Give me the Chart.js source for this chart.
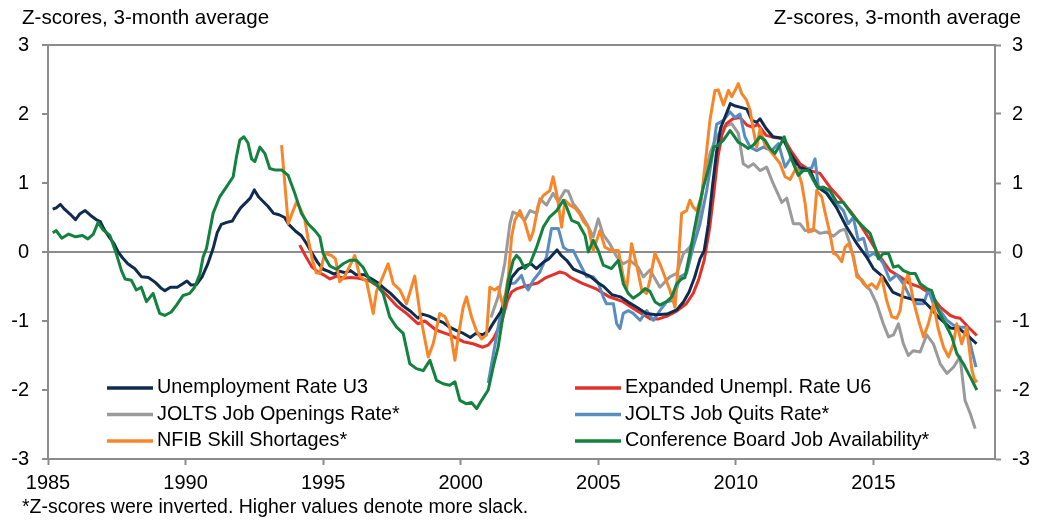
<!DOCTYPE html>
<html>
<head>
<meta charset="utf-8">
<script src="https://cdn.jsdelivr.net/npm/chart.js@4.4.1/dist/chart.umd.min.js"></script>
<style>
html,body{margin:0;padding:0;background:#fff;}
</style>
</head>
<body>
<canvas id="myChart" width="1044" height="521"></canvas>
<script>
// data (decimal years, z-scores)
var xTicks = [1985, 1990, 1995, 2000, 2005, 2010, 2015];

var u3Years = [1985.17,1985.3,1985.45,1985.6,1985.8,1986.0,1986.15,1986.35,1986.55,1986.75,1986.9,1987.05,1987.25,1987.4,1987.55,1987.7,1987.9,1988.15,1988.4,1988.65,1988.9,1989.1,1989.25,1989.45,1989.7,1989.9,1990.05,1990.2,1990.4,1990.6,1990.8,1991.0,1991.15,1991.3,1991.5,1991.7,1991.85,1992.0,1992.2,1992.35,1992.5,1992.65,1992.8,1993.0,1993.2,1993.4,1993.6,1993.75,1994.0,1994.2,1994.4,1994.6,1994.8,1995.0,1995.2,1995.4,1995.6,1995.8,1996.0,1996.2,1996.5,1996.8,1997.0,1997.2,1997.45,1997.7,1997.9,1998.15,1998.45,1998.6,1998.85,1999.1,1999.35,1999.6,1999.85,2000.1,2000.35,2000.55,2000.8,2001.0,2001.2,2001.45,2001.65,2001.85,2002.1,2002.35,2002.55,2002.75,2003.0,2003.2,2003.5,2003.65,2003.85,2004.1,2004.4,2004.7,2005.0,2005.2,2005.5,2005.8,2006.1,2006.4,2006.75,2007.1,2007.5,2007.85,2008.1,2008.3,2008.5,2008.7,2008.85,2009.0,2009.15,2009.3,2009.45,2009.6,2009.8,2009.95,2010.15,2010.4,2010.58,2010.76,2010.88,2011.1,2011.35,2011.7,2011.95,2012.3,2012.7,2012.95,2013.3,2013.65,2014.0,2014.4,2014.75,2015.0,2015.35,2015.7,2016.1,2016.45,2016.8,2017.05,2017.4,2017.8,2018.15,2018.45,2018.75];
var u3Values = [0.62,0.64,0.69,0.62,0.55,0.47,0.55,0.6,0.53,0.47,0.44,0.32,0.2,0.12,0.0,-0.08,-0.17,-0.24,-0.36,-0.37,-0.44,-0.52,-0.56,-0.51,-0.51,-0.46,-0.42,-0.48,-0.47,-0.36,-0.18,0.05,0.28,0.4,0.43,0.45,0.55,0.64,0.72,0.78,0.9,0.8,0.74,0.66,0.56,0.54,0.5,0.4,0.3,0.24,0.12,-0.02,-0.15,-0.25,-0.28,-0.32,-0.28,-0.3,-0.27,-0.33,-0.33,-0.4,-0.45,-0.52,-0.6,-0.7,-0.78,-0.85,-0.96,-0.9,-0.93,-0.98,-1.02,-1.09,-1.14,-1.18,-1.24,-1.18,-1.2,-1.15,-1.02,-0.87,-0.66,-0.37,-0.25,-0.2,-0.17,-0.24,-0.15,-0.1,0.03,-0.05,-0.12,-0.25,-0.3,-0.35,-0.45,-0.5,-0.62,-0.65,-0.73,-0.8,-0.89,-0.91,-0.9,-0.84,-0.72,-0.58,-0.37,-0.1,0.02,0.4,0.95,1.45,1.8,1.95,2.15,2.12,2.1,2.07,1.91,1.88,1.93,1.79,1.67,1.65,1.45,1.23,1.18,0.95,0.85,0.65,0.38,0.12,-0.07,-0.24,-0.36,-0.58,-0.65,-0.69,-0.7,-0.8,-0.96,-1.1,-1.12,-1.22,-1.33];

var u6Years = [1994.15,1994.35,1994.6,1994.85,1995.05,1995.25,1995.5,1995.75,1996.0,1996.3,1996.7,1997.0,1997.3,1997.67,1998.0,1998.45,1998.7,1999.1,1999.6,2000.1,2000.45,2000.8,2001.0,2001.2,2001.5,2001.7,2001.85,2002.05,2002.3,2002.5,2002.8,2003.1,2003.35,2003.6,2003.8,2004.0,2004.4,2004.9,2005.4,2005.9,2006.4,2006.9,2007.2,2007.5,2007.8,2008.2,2008.45,2008.65,2008.85,2009.05,2009.2,2009.35,2009.5,2009.65,2009.9,2010.15,2010.4,2010.6,2010.8,2011.1,2011.4,2011.75,2012.0,2012.33,2012.7,2013.06,2013.42,2013.8,2014.15,2014.5,2014.88,2015.24,2015.6,2015.97,2016.33,2016.7,2017.06,2017.43,2017.8,2018.0,2018.15,2018.45,2018.76];
var u6Values = [0.1,-0.05,-0.22,-0.3,-0.34,-0.39,-0.35,-0.38,-0.37,-0.38,-0.42,-0.5,-0.62,-0.78,-0.88,-1.04,-1.0,-1.13,-1.2,-1.3,-1.33,-1.38,-1.35,-1.25,-1.0,-0.7,-0.58,-0.53,-0.5,-0.48,-0.45,-0.37,-0.33,-0.29,-0.31,-0.37,-0.45,-0.53,-0.65,-0.72,-0.85,-0.97,-0.97,-0.93,-0.87,-0.75,-0.6,-0.4,-0.12,0.35,0.85,1.38,1.7,1.86,1.93,1.95,1.84,1.81,1.85,1.69,1.66,1.64,1.47,1.28,1.18,1.14,0.94,0.77,0.6,0.41,0.17,-0.07,-0.27,-0.36,-0.46,-0.51,-0.6,-0.8,-0.92,-0.95,-0.96,-1.09,-1.21];

var openYears = [2001.1,2001.36,2001.6,2001.79,2001.9,2002.15,2002.33,2002.52,2002.76,2002.88,2003.12,2003.36,2003.55,2003.79,2003.91,2004.09,2004.33,2004.58,2004.82,2005.0,2005.18,2005.42,2005.67,2005.91,2006.15,2006.45,2006.64,2006.88,2007.24,2007.6,2007.85,2008.1,2008.33,2008.58,2008.82,2009.06,2009.3,2009.55,2009.85,2010.09,2010.27,2010.45,2010.64,2010.88,2011.12,2011.36,2011.67,2011.85,2012.09,2012.33,2012.52,2012.82,2013.06,2013.3,2013.55,2013.79,2013.97,2014.15,2014.4,2014.64,2014.88,2015.12,2015.36,2015.55,2015.73,2015.91,2016.09,2016.27,2016.45,2016.7,2016.94,2017.18,2017.43,2017.67,2017.91,2018.15,2018.33,2018.52,2018.7];
var openValues = [-0.95,-0.65,-0.17,0.41,0.58,0.53,0.46,0.6,0.56,0.77,0.68,0.85,0.73,0.89,0.88,0.7,0.58,0.41,0.22,0.48,0.25,0.12,-0.07,-0.17,-0.12,-0.22,-0.36,-0.26,-0.51,-0.36,-0.31,-0.02,0.07,0.27,0.99,1.43,1.67,1.81,1.86,1.72,1.28,1.23,1.28,1.18,1.23,0.99,0.72,0.78,0.41,0.41,0.31,0.33,0.27,0.29,0.23,0.31,0.33,0.12,-0.31,-0.46,-0.55,-0.75,-1.04,-1.23,-1.2,-1.04,-1.33,-1.5,-1.43,-1.45,-1.2,-1.33,-1.62,-1.76,-1.67,-1.52,-2.15,-2.34,-2.56];

var quitsYears = [2001.0,2001.2,2001.4,2001.6,2001.8,2001.97,2002.21,2002.33,2002.45,2002.64,2002.88,2003.12,2003.3,2003.55,2003.73,2003.91,2004.09,2004.33,2004.58,2004.82,2005.0,2005.18,2005.3,2005.55,2005.67,2005.79,2005.91,2006.09,2006.27,2006.52,2006.76,2007.0,2007.24,2007.49,2007.73,2007.97,2008.21,2008.45,2008.7,2008.94,2009.12,2009.3,2009.55,2009.79,2009.97,2010.15,2010.33,2010.52,2010.76,2011.0,2011.3,2011.55,2011.79,2012.03,2012.27,2012.52,2012.76,2012.88,2013.0,2013.18,2013.42,2013.67,2013.91,2014.09,2014.27,2014.45,2014.64,2014.82,2015.0,2015.18,2015.36,2015.6,2015.85,2016.09,2016.33,2016.58,2016.82,2017.0,2017.18,2017.43,2017.67,2017.91,2018.15,2018.39,2018.58,2018.73];
var quitsValues = [-1.9,-1.45,-1.0,-0.65,-0.46,-0.45,-0.34,-0.48,-0.55,-0.41,-0.29,-0.07,0.34,0.34,0.07,0.02,0.02,-0.17,-0.36,-0.36,-0.45,-0.65,-0.75,-0.75,-1.04,-1.11,-0.89,-0.85,-0.89,-0.99,-0.85,-0.99,-0.85,-0.72,-0.7,-0.36,-0.31,0.07,0.41,0.89,1.33,1.85,1.91,2.03,1.95,2.0,1.67,1.52,1.47,1.52,1.47,1.57,1.23,1.38,1.18,1.2,1.22,1.35,0.94,0.94,0.8,0.7,0.6,0.41,0.5,0.17,0.2,-0.07,-0.02,-0.07,-0.17,-0.41,-0.33,-0.46,-0.65,-0.75,-0.75,-0.55,-0.75,-0.85,-0.99,-1.06,-1.09,-1.09,-1.43,-1.67];

var nfibYears = [1993.49,1993.73,1993.91,1994.03,1994.15,1994.33,1994.45,1994.6,1994.75,1994.88,1995.06,1995.3,1995.45,1995.6,1995.79,1996.15,1996.33,1996.58,1996.82,1996.94,1997.18,1997.36,1997.55,1997.79,1998.03,1998.33,1998.52,1998.82,1999.0,1999.24,1999.43,1999.6,1999.79,1999.91,2000.09,2000.21,2000.4,2000.58,2000.76,2000.94,2001.06,2001.24,2001.36,2001.55,2001.73,2001.85,2001.97,2002.15,2002.33,2002.52,2002.64,2002.82,2003.0,2003.24,2003.36,2003.51,2003.67,2003.79,2003.97,2004.15,2004.33,2004.45,2004.64,2004.82,2005.06,2005.24,2005.48,2005.73,2005.91,2006.03,2006.21,2006.4,2006.58,2006.76,2006.88,2007.06,2007.24,2007.42,2007.6,2007.79,2007.91,2008.03,2008.21,2008.33,2008.45,2008.58,2008.76,2008.94,2009.06,2009.24,2009.36,2009.55,2009.73,2009.85,2009.97,2010.09,2010.21,2010.39,2010.52,2010.64,2010.76,2010.88,2011.06,2011.24,2011.42,2011.61,2011.79,2011.97,2012.21,2012.39,2012.52,2012.64,2012.82,2012.94,2013.12,2013.24,2013.42,2013.55,2013.67,2013.85,2013.97,2014.09,2014.27,2014.4,2014.58,2014.76,2014.94,2015.12,2015.3,2015.48,2015.67,2015.85,2015.97,2016.09,2016.27,2016.45,2016.64,2016.82,2017.0,2017.18,2017.36,2017.55,2017.73,2017.91,2018.03,2018.21,2018.39,2018.58,2018.7,2018.78];
var nfibValues = [1.55,0.41,0.6,0.72,0.65,0.48,0.2,-0.1,-0.3,-0.31,-0.02,-0.05,-0.1,-0.43,-0.35,-0.05,-0.35,-0.43,-0.89,-0.57,-0.35,-0.17,-0.46,-0.55,-0.75,-0.35,-0.89,-1.52,-1.33,-0.89,-0.94,-1.09,-1.57,-1.22,-0.8,-0.65,-0.95,-1.15,-1.26,-1.2,-0.51,-0.55,-0.51,-0.8,-0.36,0.22,0.46,0.6,0.43,0.17,0.3,0.68,0.82,0.89,1.09,0.8,0.36,0.75,0.68,0.64,0.55,0.45,0.36,0.02,0.31,0.07,0.02,0.02,-0.36,-0.55,0.12,-0.2,-0.55,-0.6,-0.4,-0.02,-0.17,-0.36,-0.55,-0.8,-0.17,0.56,0.6,0.75,0.65,0.6,0.82,1.47,1.91,2.34,2.35,2.13,2.34,2.25,2.34,2.44,2.3,2.2,2.05,1.76,1.52,1.79,1.55,1.47,1.38,1.28,1.09,1.05,1.23,1.0,0.7,0.29,0.31,0.89,0.8,0.58,0.27,-0.02,-0.04,-0.14,0.07,0.12,-0.05,-0.36,-0.4,-0.51,-0.46,-0.53,-0.36,-0.7,-0.94,-0.96,-0.85,-0.51,-0.31,-0.7,-0.99,-1.23,-1.04,-0.75,-1.12,-1.38,-1.52,-1.33,-1.04,-1.33,-1.09,-1.71,-1.88,-1.86];

var cbYears = [1985.17,1985.3,1985.5,1985.75,1986.0,1986.25,1986.45,1986.65,1986.82,1987.0,1987.25,1987.48,1987.67,1987.8,1988.03,1988.21,1988.39,1988.58,1988.82,1988.94,1989.06,1989.24,1989.48,1989.67,1989.91,1990.15,1990.33,1990.52,1990.64,1990.76,1991.0,1991.24,1991.48,1991.73,1991.85,1991.97,1992.12,1992.27,1992.4,1992.52,1992.7,1992.88,1993.06,1993.24,1993.49,1993.73,1993.97,1994.21,1994.45,1994.7,1994.88,1995.0,1995.1,1995.24,1995.48,1995.73,1995.97,1996.21,1996.45,1996.7,1996.94,1997.18,1997.42,1997.67,1997.91,1998.15,1998.39,1998.64,1998.88,1999.12,1999.36,1999.6,1999.79,1999.97,2000.21,2000.39,2000.58,2000.76,2001.0,2001.18,2001.36,2001.55,2001.73,2001.91,2002.03,2002.15,2002.33,2002.52,2002.76,2003.0,2003.24,2003.49,2003.73,2003.85,2004.03,2004.27,2004.52,2004.64,2004.82,2005.0,2005.18,2005.48,2005.73,2005.91,2006.09,2006.27,2006.52,2006.7,2006.88,2007.06,2007.24,2007.48,2007.67,2007.85,2008.03,2008.15,2008.33,2008.58,2008.82,2009.06,2009.2,2009.36,2009.55,2009.79,2009.9,2010.09,2010.27,2010.45,2010.64,2010.88,2011.06,2011.24,2011.42,2011.61,2011.76,2011.91,2012.09,2012.27,2012.45,2012.64,2012.82,2013.0,2013.18,2013.42,2013.67,2013.91,2014.15,2014.4,2014.64,2014.88,2015.06,2015.18,2015.36,2015.55,2015.73,2015.91,2016.09,2016.33,2016.52,2016.7,2016.94,2017.12,2017.36,2017.61,2017.85,2018.03,2018.27,2018.52,2018.76];
var cbValues = [0.28,0.31,0.2,0.26,0.22,0.24,0.19,0.26,0.43,0.32,0.24,-0.02,-0.27,-0.39,-0.41,-0.55,-0.51,-0.72,-0.6,-0.75,-0.89,-0.92,-0.87,-0.77,-0.63,-0.6,-0.51,-0.32,-0.07,0.05,0.56,0.8,0.94,1.09,1.38,1.62,1.67,1.58,1.35,1.31,1.52,1.43,1.21,1.19,1.19,1.11,0.85,0.56,0.41,0.31,0.22,-0.02,-0.1,-0.2,-0.25,-0.17,-0.12,-0.12,-0.22,-0.41,-0.47,-0.6,-0.94,-1.09,-1.18,-1.62,-1.69,-1.72,-1.57,-1.86,-1.91,-1.93,-1.88,-2.15,-2.2,-2.18,-2.27,-2.15,-2.0,-1.67,-1.38,-0.89,-0.41,-0.12,-0.05,-0.1,-0.24,-0.17,0.07,0.36,0.51,0.6,0.75,0.65,0.46,0.42,0.24,0.0,0.17,0.02,-0.19,-0.24,-0.12,-0.46,-0.6,-0.67,-0.6,-0.53,-0.57,-0.72,-0.77,-0.72,-0.65,-0.46,-0.39,-0.37,-0.02,0.51,0.94,1.28,1.52,1.55,1.62,1.76,1.7,1.59,1.55,1.5,1.55,1.67,1.62,1.5,1.43,1.55,1.67,1.47,1.28,1.11,1.18,1.18,1.04,0.92,0.94,0.89,0.72,0.72,0.58,0.46,0.36,0.27,0.07,-0.1,-0.02,-0.02,-0.22,-0.2,-0.27,-0.31,-0.31,-0.46,-0.53,-0.56,-0.85,-1.04,-1.23,-1.47,-1.62,-1.81,-2.0];

function pts(xs, ys) {
	return xs.map(function(x, i){ return {x: x, y: ys[i]}; });
}

var FONT = '"Liberation Sans", Arial, sans-serif';
var AXIS = '#8c8c8c';

var series = [
	{label:'Conference Board Job Availability*', color:'#13823f', data:pts(cbYears, cbValues)},
	{label:'NFIB Skill Shortages*', color:'#f7862a', data:pts(nfibYears, nfibValues)},
	{label:'Unemployment Rate U3', color:'#0f2c4f', data:pts(u3Years, u3Values)},
	{label:'JOLTS Job Quits Rate*', color:'#5a8dbf', data:pts(quitsYears, quitsValues)},
	{label:'Expanded Unempl. Rate U6', color:'#e3322b', data:pts(u6Years, u6Values)},
	{label:'JOLTS Job Openings Rate*', color:'#9a9a9a', data:pts(openYears, openValues)}
];

// legend layout: two columns inside the plot
var legendCols = [
	['Unemployment Rate U3', 'JOLTS Job Openings Rate*', 'NFIB Skill Shortages*'],
	['Expanded Unempl. Rate U6', 'JOLTS Job Quits Rate*', 'Conference Board Job Availability*']
];

var textPlugin = {
	id: 'texts',
	afterDraw: function(chart) {
		var ctx = chart.ctx;
		ctx.save();
		ctx.fillStyle = '#000';
		ctx.textBaseline = 'middle';
		ctx.font = '20.6px ' + FONT;
		ctx.textAlign = 'left';
		ctx.fillText('Z-scores, 3-month average', 22, 18);
		ctx.textAlign = 'right';
		ctx.fillText('Z-scores, 3-month average', 1021, 18);
		ctx.textAlign = 'left';
		ctx.font = '19.5px ' + FONT;
		ctx.fillText('*Z-scores were inverted. Higher values denote more slack.', 22, 508);

		ctx.font = '19.8px ' + FONT;
		var colX = [107, 575];
		var rowY = [388, 414.5, 441];
		legendCols.forEach(function(col, c){
			col.forEach(function(name, r){
				var ds = series.filter(function(s){ return s.label === name; })[0];
				ctx.strokeStyle = ds.color;
				ctx.lineWidth = 3.5;
				ctx.beginPath();
				ctx.moveTo(colX[c], rowY[r]);
				ctx.lineTo(colX[c] + 46, rowY[r]);
				ctx.stroke();
				ctx.fillText(name, colX[c] + 50, rowY[r]);
			});
		});
		ctx.restore();
	}
};

function gridAt(c) {
	return (c.tick && (c.tick.value === 0 || c.tick.value === 3)) ? AXIS : 'rgba(0,0,0,0)';
}

var ctx = document.getElementById('myChart').getContext('2d');
var chart = new Chart(ctx, {
	type:'line',
	data:{
		datasets: series.map(function(s){
			return {
				label: s.label,
				data: s.data,
				borderColor: s.color,
				backgroundColor: s.color,
				borderWidth: 3,
				pointRadius: 0,
				tension: 0,
				borderJoinStyle: 'round',
				fill: false
			};
		})
	},
	options:{
		responsive:false,
		animation:false,
		devicePixelRatio:1,
		layout:{padding:{top:45, left:0, right:0, bottom:0}},
		plugins:{
			legend:{display:false},
			tooltip:{enabled:false}
		},
		scales:{
			x:{
				type:'linear',
				min:1985,
				max:2019.42,
				afterFit:function(s){ s.height = 62; },
				afterBuildTicks:function(s){ s.ticks = xTicks.map(function(v){ return {value:v}; }); },
				border:{color:AXIS, width:2},
				grid:{drawOnChartArea:false, tickLength:6, tickColor:AXIS, tickWidth:2},
				ticks:{font:{family:FONT, size:20}, color:'#000', padding:6, maxRotation:0, autoSkip:false,
					callback:function(v){ return String(v); }}
			},
			y:{
				position:'left',
				min:-3, max:3,
				afterFit:function(s){ s.width = 48; },
				border:{color:AXIS, width:2},
				grid:{color:gridAt, lineWidth:2, tickLength:6, tickColor:AXIS, tickWidth:2},
				ticks:{stepSize:1, font:{family:FONT, size:20}, color:'#000', padding:13}
			},
			y2:{
				position:'right',
				min:-3, max:3,
				afterFit:function(s){ s.width = 49; },
				border:{color:AXIS, width:2},
				grid:{drawOnChartArea:false, tickLength:6, tickColor:AXIS, tickWidth:2},
				ticks:{stepSize:1, font:{family:FONT, size:20}, color:'#000', padding:11}
			}
		}
	},
	plugins:[textPlugin]
});
</script>
</body>
</html>
